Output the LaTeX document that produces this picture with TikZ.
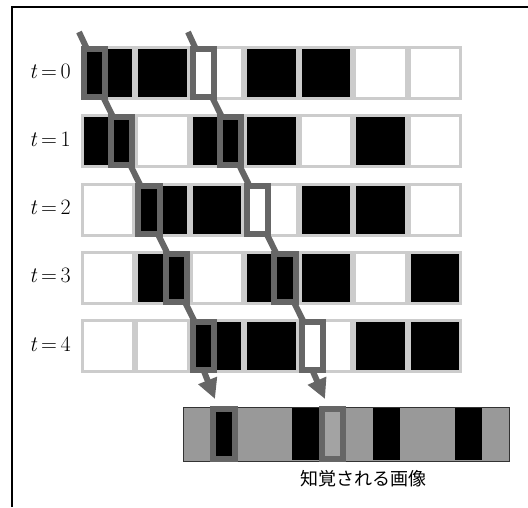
\documentclass[tikz,border=0pt]{standalone}
\usepackage{fontspec}
\newfontfamily\jpfont{Noto Sans CJK JP}
\usetikzlibrary{arrows.meta}
\definecolor{cellgray}{HTML}{CCCCCC}
\definecolor{markgray}{HTML}{666666}
\definecolor{bargray}{HTML}{999999}
\definecolor{marklight}{HTML}{A3A3A3}
\begin{document}
\begin{tikzpicture}[
        x=1pt, y=-1pt,
        cell/.style={draw=cellgray, line width=3pt, minimum width=51.4pt,
            minimum height=51pt, inner sep=0pt, outer sep=0pt},
        window/.style={draw=markgray, line width=6pt, minimum width=21.2pt,
            minimum height=48pt, inner sep=0pt, outer sep=0pt},
        band/.style={fill=black, minimum width=27.2pt, minimum height=52pt,
            inner sep=0pt, outer sep=0pt},
        track/.style={draw=markgray, line width=6pt},
        tlabel/.style={font=\fontsize{22}{26}\selectfont}
    ]
        \useasboundingbox (0,0) rectangle (528,507);
        \draw[line width=2pt] (12,507) -- (12,7) -- (528,7);
        % time steps
        \foreach \row/\pat in {0/{black,black,white,black,black,white,white},
                1/{black,white,black,black,white,black,white},
                2/{white,black,black,white,black,black,white},
                3/{white,black,white,black,black,white,black},
                4/{white,white,black,black,white,black,black}} {
            \node[tlabel] (t\row) at (50, {71+68.25*\row}) {\textit{t}\,=\,\row};
            \foreach \c [count=\k from 0] in \pat
                \node[cell, fill=\c] (c\row-\k) at ({108.2+54.43*\k}, {73+68.25*\row}) {};
        }
        \foreach \r in {0,...,4} {
            \node[window] (a\r) at ({94.6+27.21*\r}, {73+68.25*\r}) {};
            \node[window] (b\r) at ({94.6+27.21*(\r+4)}, {73+68.25*\r}) {};
        }
        \coordinate (atop) at (79,32);
        \coordinate (btop) at (188,32);
        \draw[track] (atop) -- ([xshift=3pt]a0.north west);
        \draw[track] (btop) -- ([xshift=3pt]b0.north west);
        \foreach \n [remember=\n as \p (initially 0)] in {1,...,4} {
            \draw[track] ([xshift=-2pt]a\p.south east) -- ([xshift=2pt]a\n.north west);
            \draw[track] ([xshift=-2pt]b\p.south east) -- ([xshift=2pt]b\n.north west);
        }
        % perceived image
        \node[draw=black!80, fill=bargray, line width=1pt, minimum width=326pt,
            minimum height=54pt, inner sep=0pt, outer sep=0pt] (bar) at (346,434) {};
        \node[band] (band4) at (305.3,434) {};
        \node[band] (band7) at (386.8,434) {};
        \node[band] (band10) at (468.3,434) {};
        \node[window, minimum height=50pt, fill=black] (seen-a) at (223.9,434) {};
        \node[window, minimum height=50pt, fill=marklight] (seen-b) at (332.6,434) {};
        \coordinate (aout) at (215,399);
        \coordinate (bout) at (325,399);
        \draw[track, -{Triangle[length=20pt 0, width=19pt 0]}] (a4.south) -- (aout);
        \draw[track, -{Triangle[length=20pt 0, width=19pt 0]}] (b4.south) -- (bout);
        \node[font=\jpfont\fontsize{18}{21}\selectfont] (caption) at (363,479) {知覚される画像};
    \end{tikzpicture}
\end{document}
